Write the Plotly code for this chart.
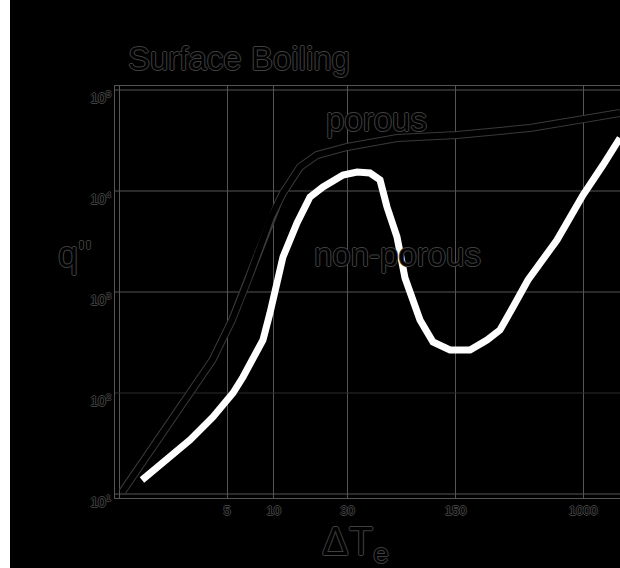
import plotly.graph_objects as go

# Boiling curves: wall superheat (K) vs heat flux
porous_dt = [1.05, 1.90, 2.88, 4.02, 5.38, 6.82, 9.61, 10.66, 11.48, 14.79, 19.05,
             29.8, 62.7, 153, 454, 1108, 1731]
porous_q = [10.5, 40.2, 100, 212, 528, 1315, 5530, 7600, 9550, 17300, 22700,
            27300, 33500, 35800, 42100, 52800, 59200]

nonporous_dt = [1.408, 2.043, 2.877, 4.052, 5.457, 6.333, 7.348, 8.528, 9.465, 10.20,
                10.98, 11.48, 14.15, 17.17, 20.83, 28.05, 34.56, 41.94, 48.67, 54.01,
                62.66, 70.6, 88.25, 107.1, 137.9, 185.8, 239.2, 290.3, 352.4, 440.5,
                678.1, 998.6, 1345, 1733]
nonporous_q = [13.76, 21.71, 34.24, 57.86, 100, 144.0, 212.2, 334.8, 619.7, 1047,
               1651, 2221, 4822, 8723, 10955, 14400, 15420, 15070, 12850, 6943,
               3505, 1376, 528.2, 319.9, 266.6, 266.6, 334.8, 420.6, 710.3, 1315,
               3272, 9129, 18090, 33480]

x_tickvals = [1, 5, 10, 30, 150, 1000]
x_ticktext = ["", "5", "10", "30", "150", "1000"]
y_tickvals = [10, 100, 1000, 10000, 100000]
y_ticktext = ["10<sup>1</sup>", "10<sup>2</sup>", "10<sup>3</sup>", "10<sup>4</sup>", "10<sup>5</sup>"]

W, H = 620, 568
ML, MR, MT, MB = 115, 0, 86, 70
PW, PH = W - ML - MR, H - MT - MB

GRID = "#555555"
GRID_DIM = "#2c2c2c"
EDGE = "#404040"
OUTLINE = ", ".join(f"{dx}px {dy}px 0 {EDGE}" for dx, dy in
                    [(1, 0), (-1, 0), (0, 1), (0, -1)])
SANS = "Liberation Sans, Arial, sans-serif"


def px_x(px):
    return (px - ML) / PW


def px_y(py):
    return (H - MB - py) / PH


def hollow_font(size):
    return dict(family=SANS, size=size, color="#000000", shadow=OUTLINE)


fig = go.Figure()

# faint decade line at 10^2
fig.add_trace(go.Scatter(x=[0.9, 3000], y=[y_tickvals[1]] * 2, mode="lines",
                         line=dict(color=GRID_DIM, width=1), hoverinfo="skip"))
# porous: hollow stroke (outline then black core)
fig.add_trace(go.Scatter(x=porous_dt, y=porous_q, mode="lines",
                         line=dict(color="#3a3a3a", width=8), hoverinfo="skip"))
fig.add_trace(go.Scatter(x=porous_dt, y=porous_q, mode="lines",
                         line=dict(color="#000000", width=6), hoverinfo="skip"))
# non-porous: solid white stroke
fig.add_trace(go.Scatter(x=nonporous_dt, y=nonporous_q, mode="lines",
                         line=dict(color="#ffffff", width=7), hoverinfo="skip"))

fig.update_layout(
    width=W, height=H,
    margin=dict(l=ML, r=MR, t=MT, b=MB, pad=0),
    paper_bgcolor="#000000", plot_bgcolor="#000000",
    showlegend=False,
    xaxis=dict(type="log", range=[-4 / 154.7, 501 / 154.7],
               tickvals=x_tickvals, ticktext=x_ticktext,
               showgrid=True, gridcolor=GRID, gridwidth=1,
               showline=True, linecolor=GRID, linewidth=1, mirror=True,
               ticks="", tickfont=hollow_font(13), zeroline=False,
               ticklabelstandoff=0),
    yaxis=dict(type="log", range=[0.9604, 5.0396],
               tickvals=y_tickvals, ticktext=y_ticktext,
               showgrid=True, gridcolor=GRID, gridwidth=1,
               showline=True, linecolor=GRID, linewidth=1, mirror=False,
               ticks="", tickfont=hollow_font(14), ticklabelshift=8,
               zeroline=False),
)

# the 10^2 gridline is drawn faint by the trace above
fig.update_yaxes(showgrid=False)
for v in [y_tickvals[0], y_tickvals[2], y_tickvals[3], y_tickvals[4]]:
    fig.add_hline(y=v, line=dict(color=GRID, width=1), layer="below")

# white strip along the left edge
fig.add_shape(type="rect", xref="paper", yref="paper",
              x0=px_x(0), x1=px_x(10), y0=px_y(H), y1=px_y(0),
              fillcolor="#ffffff", line=dict(width=0), layer="below")

fig.add_annotation(text="Surface Boiling", xref="paper", yref="paper",
                   x=px_x(126), y=px_y(58), xanchor="left", yanchor="middle",
                   showarrow=False, font=hollow_font(33))
fig.add_annotation(text="porous", xref="paper", yref="paper",
                   x=px_x(376), y=px_y(120), xanchor="center", yanchor="middle",
                   showarrow=False, font=hollow_font(33))
fig.add_annotation(text="non-porous", xref="paper", yref="paper",
                   x=px_x(397), y=px_y(254), xanchor="center", yanchor="middle",
                   showarrow=False, font=hollow_font(33))
fig.add_annotation(text="ΔT<sub>e</sub>", xref="paper", yref="paper",
                   x=px_x(355), y=px_y(517), xanchor="center", yanchor="top",
                   showarrow=False, font=hollow_font(40))
fig.add_annotation(text="q''", xref="paper", yref="paper",
                   x=px_x(75), y=px_y(254), xanchor="center", yanchor="middle",
                   showarrow=False, font=hollow_font(36))

fig.write_html("out.html")
